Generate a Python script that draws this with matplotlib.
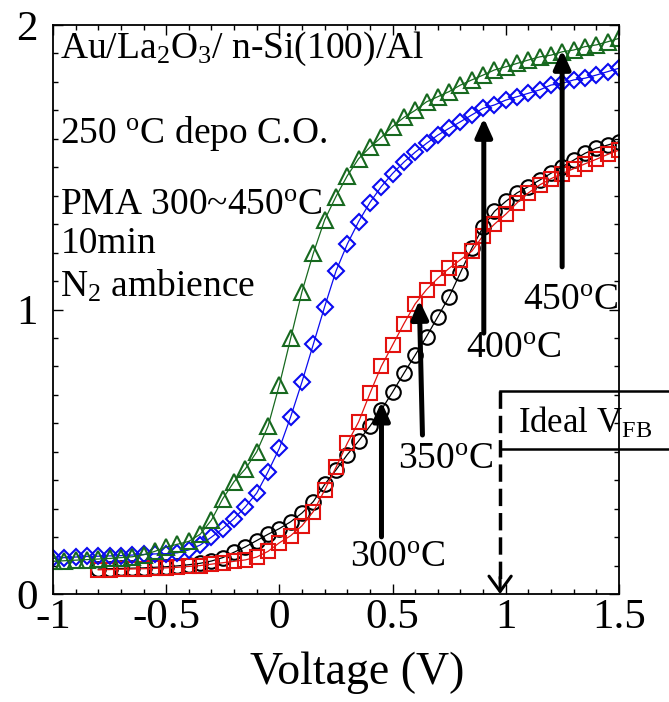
import numpy as np
import matplotlib
matplotlib.use("Agg")
import matplotlib.pyplot as plt
from matplotlib.ticker import MultipleLocator

plt.rcParams['font.family'] = ['Liberation Serif', 'DejaVu Serif']
plt.rcParams['mathtext.fontset'] = 'custom'
plt.rcParams['mathtext.rm'] = 'Liberation Serif'
plt.rcParams['mathtext.it'] = 'Liberation Serif:italic'
plt.rcParams['mathtext.bf'] = 'Liberation Serif:bold'
plt.rcParams['axes.unicode_minus'] = False

# ---- C-V data (normalised capacitance vs gate voltage) ----
v_450 = np.round(np.arange(-1.00, 1.501, 0.05), 2)
c_450 = [0.115, 0.117, 0.119, 0.121, 0.123, 0.125, 0.128, 0.131, 0.138, 0.150,
         0.165, 0.175, 0.185, 0.210, 0.260, 0.335, 0.395, 0.440, 0.500, 0.590,
         0.735, 0.899, 1.063, 1.198, 1.315, 1.397, 1.470, 1.530, 1.570, 1.605,
         1.643, 1.675, 1.700, 1.730, 1.748, 1.766, 1.789, 1.807, 1.824, 1.842,
         1.853, 1.865, 1.877, 1.888, 1.894, 1.906, 1.912, 1.924, 1.930, 1.941,
         1.953]

v_400 = np.round(np.arange(-1.00, 1.501, 0.05), 2)
c_400 = [0.125, 0.128, 0.130, 0.132, 0.133, 0.134, 0.135, 0.137, 0.139, 0.141,
         0.142, 0.145, 0.155, 0.172, 0.200, 0.230, 0.265, 0.307, 0.355, 0.430,
         0.512, 0.623, 0.746, 0.878, 1.010, 1.135, 1.230, 1.309, 1.376, 1.432,
         1.478, 1.518, 1.553, 1.584, 1.613, 1.637, 1.660, 1.684, 1.707, 1.719,
         1.736, 1.748, 1.760, 1.772, 1.789, 1.795, 1.807, 1.813, 1.824, 1.836,
         1.848]

v_350 = np.round(np.arange(-0.80, 1.501, 0.05), 2)
c_350 = [0.085, 0.086, 0.087, 0.088, 0.089, 0.090, 0.092, 0.094, 0.097, 0.100,
         0.105, 0.110, 0.115, 0.120, 0.130, 0.150, 0.180, 0.205, 0.240, 0.290,
         0.365, 0.445, 0.530, 0.605, 0.705, 0.800, 0.875, 0.950, 1.020, 1.070,
         1.110, 1.145, 1.175, 1.205, 1.260, 1.300, 1.335, 1.375, 1.410, 1.438,
         1.460, 1.478, 1.495, 1.512, 1.528, 1.545, 1.560]

v_300 = np.round(np.arange(-0.80, 1.501, 0.05), 2)
c_300 = [0.088, 0.089, 0.090, 0.091, 0.092, 0.094, 0.096, 0.099, 0.103, 0.108,
         0.116, 0.128, 0.147, 0.166, 0.188, 0.210, 0.230, 0.254, 0.285, 0.325,
         0.385, 0.436, 0.490, 0.538, 0.590, 0.647, 0.710, 0.776, 0.840, 0.905,
         0.975, 1.045, 1.130, 1.215, 1.290, 1.345, 1.380, 1.410, 1.432, 1.455,
         1.479, 1.502, 1.525, 1.549, 1.567, 1.578, 1.590]

# annotation arrows: label text, label position, arrow tail and tip
pma_labels = ['300', '350', '400', '450']
label_xy = [(0.312, 0.095), (0.523, 0.440), (0.826, 0.830), (1.075, 0.998)]
arrow_tail = [(0.451, 0.201), (0.632, 0.559), (0.903, 0.917), (1.249, 1.150)]
arrow_tip = [(0.451, 0.676), (0.618, 1.033), (0.903, 1.673), (1.249, 1.912)]

ideal_vfb = 0.975
vfb_box = (0.509, 0.715)

fig = plt.figure(figsize=(6.69, 7.02), dpi=100)
ax = fig.add_axes([0.0792, 0.1538, 0.8460, 0.8106])

green = '#17691f'
blue = '#0b0bf0'
red = '#e3120f'

common = dict(lw=0.9, mfc='none', mew=1.5)
ax.plot(v_300, c_300, '-o', color='black', ms=10.5, **common)
ax.plot(v_350, c_350, '-s', color=red, ms=10.5, **common)
ax.plot(v_400, c_400, '-D', color=blue, ms=7.8, **common)
ax.plot(v_450, c_450, '-^', color=green, ms=11.0, **common)

ax.set_xlim(-1.0, 1.5)
ax.set_ylim(0, 2)
ax.xaxis.set_minor_locator(MultipleLocator(0.1))
ax.yaxis.set_minor_locator(MultipleLocator(0.1))
ax.set_xticks([-1, -0.5, 0, 0.5, 1, 1.5])
ax.set_xticklabels(['-1', '-0.5', '0', '0.5', '1', '1.5'])
ax.set_yticks([0, 1, 2])
ax.set_yticklabels(['0', '1', '2'])

ax.tick_params(which='both', direction='in', top=True, right=True, width=1.0)
ax.tick_params(which='major', length=7)
ax.tick_params(which='minor', length=3.8)
ax.tick_params(axis='x', which='major', labelsize=31, pad=3)
ax.tick_params(axis='y', which='major', labelsize=31, pad=11)
for s in ax.spines.values():
    s.set_linewidth(1.3)

ax.set_xlabel('Voltage (V)', fontsize=33)
ax.xaxis.set_label_coords(0.537, -0.139)
ax.xaxis.label.set_va('center')

# sample description
desc_x = -0.967
ax.text(desc_x, 1.884, r'Au/La$_2$O$_3$/ n-Si(100)/Al', fontsize=27, va='baseline')
ax.text(desc_x, 1.585, r'250 $^{\rm o}$C depo C.O.', fontsize=27, va='baseline')
ax.text(desc_x, 1.332, r'PMA 300~450$^{\rm o}$C', fontsize=27, va='baseline')
ax.text(desc_x, 1.199, '10min', fontsize=27, va='baseline')
ax.text(desc_x, 1.044, r'N$_2$ ambience', fontsize=27, va='baseline')

# annealing temperature arrows
for lab, (lx, ly), tail, tip in zip(pma_labels, label_xy, arrow_tail, arrow_tip):
    ax.annotate('', xy=tip, xytext=tail,
                arrowprops=dict(arrowstyle='-|>,head_length=0.55,head_width=0.25',
                                lw=3.6, color='black', shrinkA=0, shrinkB=0,
                                mutation_scale=20))
    ax.text(lx, ly, lab + r'$^{\rm o}$C', fontsize=27, va='baseline')

# ideal flat-band voltage marker
ax.plot([ideal_vfb, ideal_vfb], [vfb_box[1], 0.03], color='black', lw=2.5,
        dashes=(5, 2))
ax.annotate('', xy=(ideal_vfb, 0.0), xytext=(ideal_vfb, 0.06),
            arrowprops=dict(arrowstyle='->,head_length=0.55,head_width=0.4',
                            lw=2.2, color='black', shrinkA=0, shrinkB=0,
                            mutation_scale=20))
for yb in vfb_box:
    ax.plot([ideal_vfb, 1.8], [yb, yb], color='black', lw=1.8, clip_on=False)
ax.text(1.052, 0.566, r'Ideal V$_{\rm FB}$', fontsize=25, va='baseline')

fig.savefig('out.png', dpi=100)
